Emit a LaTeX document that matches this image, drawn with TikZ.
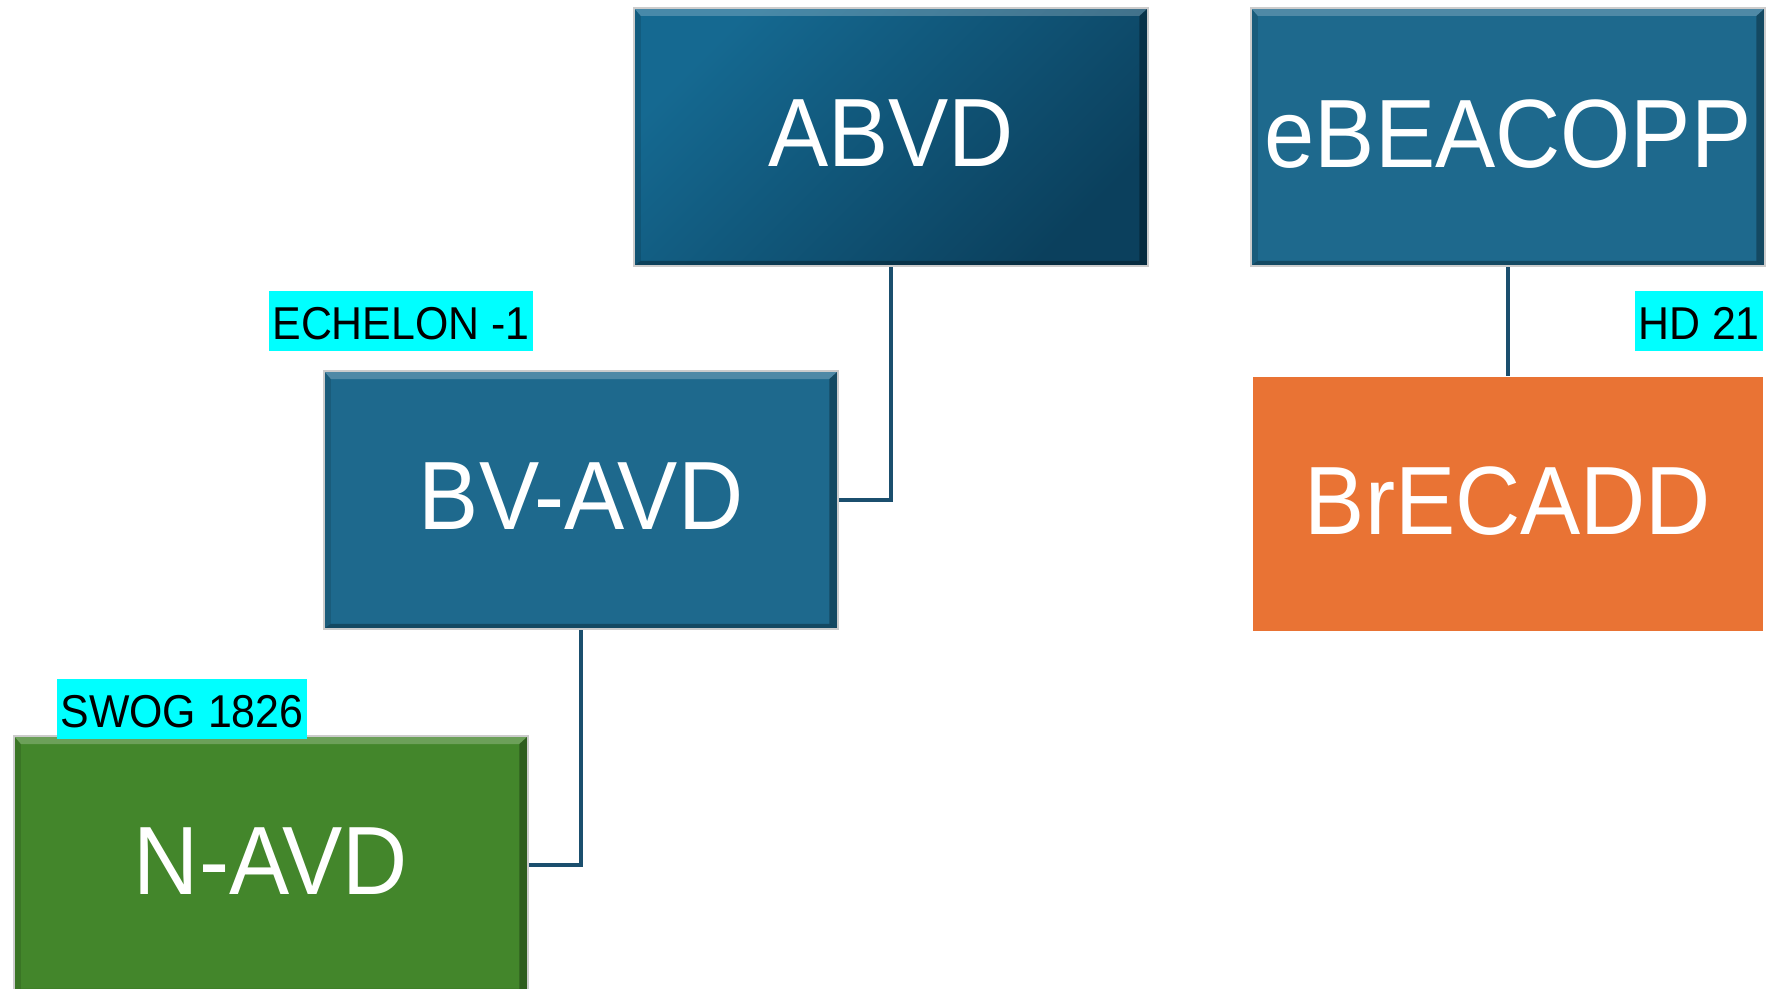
\documentclass[tikz,border=0pt]{standalone}
\usepackage{fontspec}
\setmainfont{Liberation Sans}[FakeStretch=0.93]
\usetikzlibrary{positioning}

\definecolor{regblue}{HTML}{1E698D}
\definecolor{abvdlight}{HTML}{156991}
\definecolor{abvddark}{HTML}{0B405D}
\definecolor{reggreen}{HTML}{43862B}
\definecolor{regorange}{HTML}{E97334}
\definecolor{linkblue}{HTML}{1B4F6E}
\definecolor{trialcyan}{HTML}{00FFFF}

\tikzset{
  regimen/.style={minimum width=5.14cm, minimum height=2.58cm, inner sep=0pt,
    text=white, text depth=2.2pt, font=\fontsize{27.6}{33}\selectfont},
  bevel/.style={draw=gray!40, line width=0.6pt,
    path picture={
      \fill[white, opacity=.22] (path picture bounding box.north west) -- (path picture bounding box.north east)
        -- ([xshift=-2.5pt,yshift=-2.3pt]path picture bounding box.north east)
        -- ([xshift=2pt,yshift=-2.3pt]path picture bounding box.north west) -- cycle;
      \fill[black, opacity=.3] (path picture bounding box.north east) -- (path picture bounding box.south east)
        -- ([xshift=-2.5pt,yshift=1.5pt]path picture bounding box.south east)
        -- ([xshift=-2.5pt,yshift=-2.3pt]path picture bounding box.north east) -- cycle;
      \fill[black, opacity=.3] (path picture bounding box.south west) -- (path picture bounding box.south east)
        -- ([xshift=-2.5pt,yshift=1.5pt]path picture bounding box.south east)
        -- ([xshift=2pt,yshift=1.5pt]path picture bounding box.south west) -- cycle;
      \fill[black, opacity=.12] (path picture bounding box.north west) -- (path picture bounding box.south west)
        -- ([xshift=2pt,yshift=1.5pt]path picture bounding box.south west)
        -- ([xshift=2pt,yshift=-2.3pt]path picture bounding box.north west) -- cycle;
    }},
  trial/.style={fill=trialcyan, inner xsep=1pt, inner ysep=0pt,
    text height=14pt, text depth=3.2pt, font=\fontsize{13.1}{15}\selectfont},
  link/.style={draw=linkblue, line width=1.2pt}
}

\begin{document}
\begin{tikzpicture}[x=0.01cm, y=-0.01cm]
  \useasboundingbox (0,0) rectangle (1768,989);
  \node[regimen, bevel, top color=abvdlight, bottom color=abvddark, shading angle=45] (abvd) at (891,137) {ABVD};
  \node[regimen, bevel, fill=regblue] (ebeacopp) at (1508,137) {eBEACOPP};
  \node[regimen, bevel, fill=regblue] (bvavd) at (581,500) {BV-AVD};
  \node[regimen, fill=regorange, minimum width=5.09cm, minimum height=2.54cm] (brecadd) at (1508,504) {BrECADD};
  \node[regimen, bevel, fill=reggreen] (navd) at (271,865) {N-AVD};

  \node[trial] (echelon) at (401,321) {ECHELON -1};
  \node[trial] (hd) at (1699,321) {HD 21};
  \node[trial] (swog) at (182,709) {SWOG 1826};

  \draw[link] (abvd.south) |- (bvavd.east);
  \draw[link] (bvavd.south) |- (navd.east);
  \draw[link] (ebeacopp.south) -- (brecadd.north);
\end{tikzpicture}
\end{document}
